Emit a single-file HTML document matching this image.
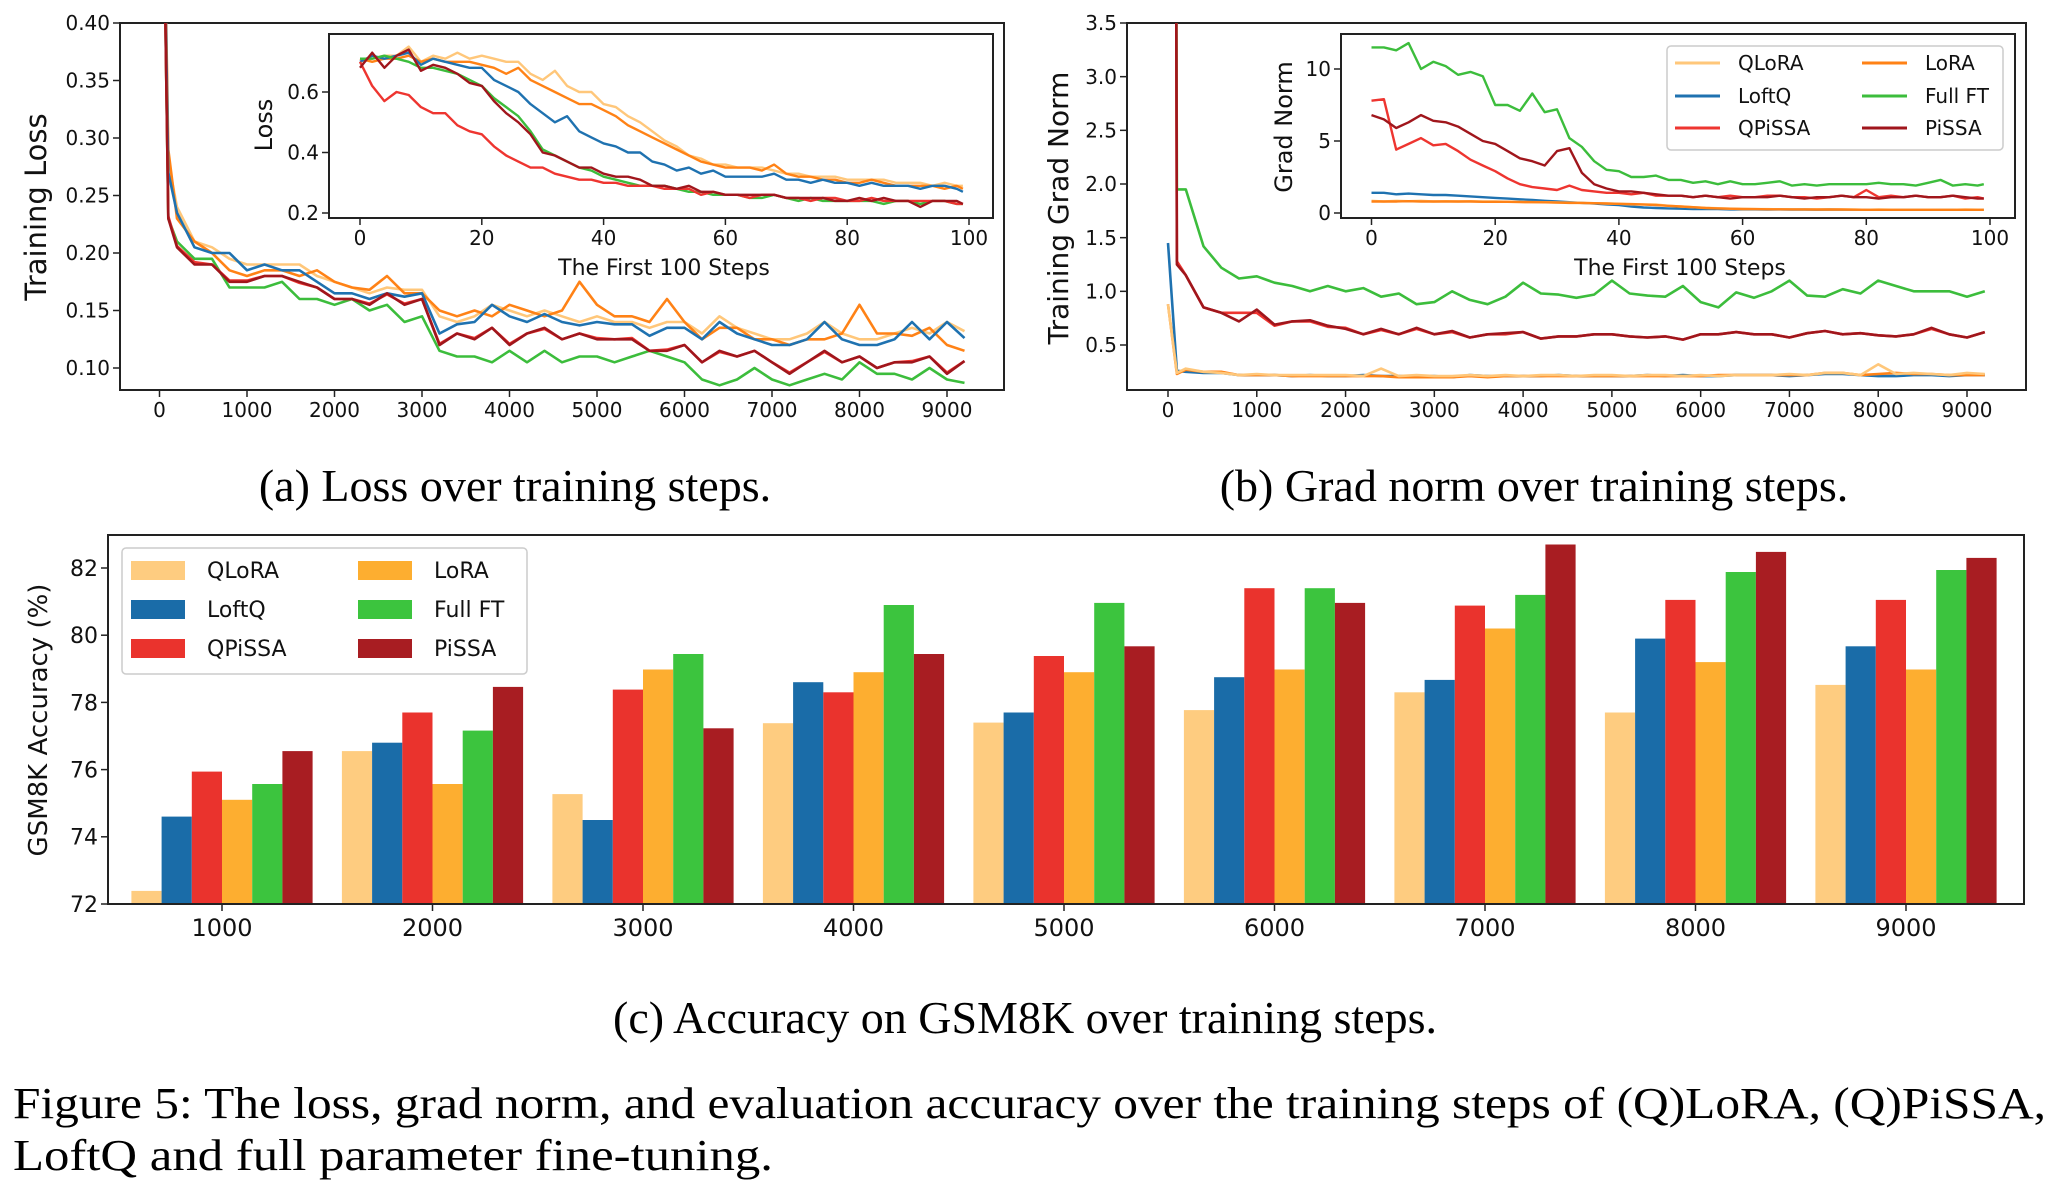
<!DOCTYPE html>
<html><head><meta charset="utf-8">
<style>
html,body{margin:0;padding:0;background:#fff;}
svg{display:block;}
</style></head>
<body>
<svg id="fig" width="2058" height="1186" viewBox="0 0 2058 1186" xmlns="http://www.w3.org/2000/svg" font-family="'DejaVu Sans', sans-serif">
<rect x="0" y="0" width="2058" height="1186" fill="#fff"/>
<g id="layer"></g>
<text x="515" y="501" font-family="'Liberation Serif', serif" font-size="46" text-anchor="middle">(a) Loss over training steps.</text>
<text x="1534" y="501" font-family="'Liberation Serif', serif" font-size="46" text-anchor="middle">(b) Grad norm over training steps.</text>
<text x="1025" y="1033" font-family="'Liberation Serif', serif" font-size="46" text-anchor="middle">(c) Accuracy on GSM8K over training steps.</text>
<text x="13" y="1118" font-family="'Liberation Serif', serif" font-size="44" textLength="2033" lengthAdjust="spacingAndGlyphs">Figure 5: The loss, grad norm, and evaluation accuracy over the training steps of (Q)LoRA, (Q)PiSSA,</text>
<text x="13" y="1170" font-family="'Liberation Serif', serif" font-size="44" textLength="760" lengthAdjust="spacingAndGlyphs">LoftQ and full parameter fine-tuning.</text>
</svg>
<script>
// ---------- DATA ----------
const seriesNames = ["QLoRA","LoftQ","QPiSSA","LoRA","Full FT","PiSSA"];
const lineColors = ["#ffc77a","#1f72b0","#ee3530","#ff8216","#3cbd3c","#a0161c"];
const barColors = ["#fecc80","#1a6ca8","#ea332d","#fdae30","#3cc43e","#a81d22"];

const mainSteps = [0,100,200,400,600,800,1000,1200,1400,1600,1800,2000,2200,2400,2600,2800,3000,3200,3400,3600,3800,4000,4200,4400,4600,4800,5000,5200,5400,5600,5800,6000,6200,6400,6600,6800,7000,7200,7400,7600,7800,8000,8200,8400,8600,8800,9000,9200];

const lossQLoRA = [0.75,0.28,0.24,0.21,0.205,0.195,0.19,0.19,0.19,0.19,0.18,0.175,0.17,0.165,0.17,0.168,0.168,0.145,0.14,0.145,0.155,0.15,0.145,0.15,0.145,0.14,0.145,0.14,0.14,0.135,0.14,0.14,0.13,0.145,0.135,0.13,0.125,0.125,0.13,0.14,0.13,0.125,0.125,0.13,0.135,0.13,0.14,0.132];
const lossLoftQ = [0.75,0.27,0.235,0.205,0.2,0.2,0.185,0.19,0.185,0.185,0.175,0.165,0.165,0.16,0.165,0.162,0.165,0.13,0.138,0.14,0.155,0.145,0.14,0.147,0.14,0.137,0.14,0.138,0.138,0.128,0.135,0.135,0.125,0.14,0.13,0.125,0.12,0.12,0.125,0.14,0.125,0.12,0.12,0.125,0.14,0.125,0.14,0.126];
const lossQPiSSA = [0.75,0.232,0.206,0.192,0.19,0.176,0.176,0.18,0.18,0.174,0.17,0.16,0.16,0.156,0.164,0.156,0.16,0.121,0.13,0.126,0.135,0.121,0.13,0.134,0.125,0.13,0.126,0.125,0.126,0.115,0.116,0.12,0.105,0.114,0.11,0.115,0.105,0.096,0.105,0.114,0.105,0.11,0.1,0.105,0.106,0.11,0.096,0.106];
const lossLoRA = [0.75,0.29,0.23,0.21,0.2,0.185,0.18,0.185,0.185,0.18,0.185,0.175,0.17,0.168,0.18,0.165,0.165,0.15,0.145,0.15,0.145,0.155,0.15,0.145,0.15,0.175,0.155,0.145,0.145,0.14,0.16,0.14,0.125,0.135,0.135,0.125,0.125,0.12,0.125,0.125,0.13,0.155,0.13,0.13,0.128,0.135,0.12,0.115];
const lossFullFT = [0.75,0.23,0.21,0.195,0.195,0.17,0.17,0.17,0.175,0.16,0.16,0.155,0.16,0.15,0.155,0.14,0.145,0.115,0.11,0.11,0.105,0.115,0.105,0.115,0.105,0.11,0.11,0.105,0.11,0.115,0.11,0.105,0.09,0.085,0.09,0.1,0.09,0.085,0.09,0.095,0.09,0.105,0.095,0.095,0.09,0.1,0.09,0.087];
const lossPiSSA = [0.75,0.23,0.205,0.19,0.19,0.175,0.175,0.18,0.18,0.175,0.17,0.16,0.16,0.155,0.165,0.155,0.16,0.12,0.13,0.125,0.135,0.12,0.13,0.135,0.125,0.13,0.125,0.125,0.125,0.115,0.115,0.12,0.105,0.115,0.11,0.115,0.105,0.095,0.105,0.115,0.105,0.11,0.1,0.105,0.105,0.11,0.095,0.106];

const insetSteps = [0,2,4,6,8,10,12,14,16,18,20,22,24,26,28,30,32,34,36,38,40,42,44,46,48,50,52,54,56,58,60,62,64,66,68,70,72,74,76,78,80,82,84,86,88,90,92,94,96,98,99];

const iLossQLoRA = [0.70,0.71,0.72,0.72,0.75,0.70,0.72,0.71,0.73,0.71,0.72,0.71,0.70,0.70,0.66,0.64,0.67,0.62,0.60,0.60,0.56,0.55,0.52,0.50,0.47,0.44,0.42,0.39,0.38,0.36,0.36,0.35,0.35,0.35,0.34,0.33,0.33,0.32,0.32,0.32,0.31,0.31,0.31,0.31,0.30,0.30,0.30,0.29,0.30,0.29,0.29];
const iLossLoftQ = [0.70,0.72,0.71,0.72,0.73,0.69,0.71,0.70,0.69,0.68,0.68,0.64,0.62,0.60,0.56,0.53,0.50,0.52,0.47,0.45,0.43,0.42,0.40,0.40,0.37,0.36,0.34,0.35,0.33,0.34,0.32,0.32,0.32,0.32,0.33,0.31,0.31,0.30,0.31,0.30,0.30,0.29,0.30,0.29,0.29,0.29,0.28,0.29,0.29,0.28,0.27];
const iLossQPiSSA = [0.70,0.62,0.57,0.60,0.59,0.55,0.53,0.53,0.49,0.47,0.46,0.42,0.39,0.37,0.35,0.35,0.33,0.32,0.31,0.31,0.30,0.30,0.29,0.29,0.29,0.28,0.28,0.28,0.26,0.27,0.26,0.26,0.25,0.26,0.26,0.25,0.25,0.24,0.25,0.25,0.24,0.24,0.25,0.24,0.24,0.24,0.24,0.24,0.24,0.23,0.23];
const iLossLoRA = [0.71,0.70,0.71,0.71,0.72,0.70,0.71,0.70,0.70,0.70,0.69,0.68,0.66,0.68,0.64,0.62,0.60,0.58,0.56,0.56,0.54,0.52,0.49,0.47,0.45,0.43,0.41,0.39,0.37,0.36,0.35,0.35,0.35,0.34,0.36,0.33,0.32,0.32,0.31,0.31,0.30,0.30,0.31,0.30,0.29,0.29,0.29,0.29,0.28,0.29,0.28];
const iLossFullFT = [0.71,0.71,0.72,0.71,0.70,0.68,0.68,0.67,0.66,0.64,0.62,0.58,0.55,0.52,0.47,0.41,0.39,0.37,0.35,0.34,0.32,0.31,0.30,0.29,0.29,0.29,0.28,0.27,0.27,0.26,0.26,0.26,0.25,0.25,0.26,0.25,0.24,0.25,0.24,0.24,0.24,0.24,0.24,0.23,0.24,0.24,0.23,0.24,0.24,0.23,0.23];
const iLossPiSSA = [0.68,0.73,0.68,0.72,0.74,0.67,0.69,0.68,0.66,0.63,0.62,0.57,0.53,0.50,0.46,0.40,0.39,0.37,0.35,0.35,0.33,0.32,0.32,0.31,0.29,0.29,0.28,0.29,0.27,0.27,0.26,0.26,0.26,0.26,0.26,0.25,0.25,0.25,0.25,0.24,0.24,0.25,0.24,0.25,0.24,0.24,0.22,0.24,0.24,0.24,0.23];

const gradQLoRA = [0.88,0.24,0.28,0.25,0.24,0.22,0.23,0.22,0.22,0.22,0.22,0.22,0.21,0.28,0.21,0.22,0.21,0.21,0.22,0.21,0.22,0.21,0.22,0.22,0.21,0.22,0.22,0.21,0.22,0.22,0.21,0.22,0.21,0.22,0.22,0.22,0.23,0.22,0.24,0.24,0.22,0.32,0.23,0.24,0.23,0.22,0.24,0.23];
const gradLoftQ = [1.45,0.26,0.25,0.24,0.24,0.22,0.22,0.22,0.21,0.22,0.21,0.21,0.22,0.21,0.21,0.21,0.21,0.2,0.22,0.21,0.21,0.21,0.21,0.22,0.21,0.21,0.21,0.21,0.22,0.21,0.22,0.21,0.21,0.22,0.22,0.22,0.21,0.22,0.23,0.23,0.22,0.21,0.21,0.22,0.22,0.21,0.22,0.22];
const gradQPiSSA = [35,1.28,1.15,0.85,0.8,0.8,0.8,0.68,0.72,0.72,0.67,0.66,0.6,0.64,0.6,0.65,0.6,0.62,0.57,0.6,0.6,0.62,0.56,0.58,0.58,0.6,0.6,0.58,0.57,0.58,0.55,0.6,0.6,0.62,0.6,0.6,0.57,0.61,0.63,0.6,0.61,0.59,0.58,0.6,0.65,0.6,0.57,0.62];
const gradLoRA = [0.88,0.23,0.27,0.25,0.25,0.22,0.22,0.22,0.21,0.21,0.21,0.21,0.21,0.21,0.2,0.2,0.2,0.2,0.21,0.2,0.21,0.21,0.21,0.21,0.21,0.21,0.21,0.21,0.21,0.21,0.21,0.21,0.22,0.22,0.22,0.22,0.22,0.22,0.24,0.24,0.22,0.23,0.24,0.23,0.23,0.22,0.22,0.22];
const gradFullFT = [35,1.95,1.95,1.42,1.22,1.12,1.14,1.08,1.05,1.0,1.05,1.0,1.03,0.95,0.98,0.88,0.9,1.0,0.92,0.88,0.95,1.08,0.98,0.97,0.94,0.97,1.1,0.98,0.96,0.95,1.05,0.9,0.85,0.99,0.94,1.0,1.1,0.96,0.95,1.02,0.98,1.1,1.05,1.0,1.0,1.0,0.95,1.0];
const gradPiSSA = [35,1.25,1.15,0.85,0.8,0.72,0.83,0.69,0.72,0.73,0.68,0.65,0.6,0.65,0.6,0.66,0.6,0.63,0.57,0.6,0.61,0.62,0.56,0.58,0.58,0.6,0.6,0.58,0.57,0.58,0.55,0.6,0.6,0.62,0.6,0.6,0.57,0.61,0.63,0.6,0.61,0.59,0.58,0.6,0.66,0.6,0.57,0.62];

const iGradQLoRA = [0.85,0.8,0.85,0.82,0.85,0.8,0.82,0.8,0.82,0.8,0.8,0.78,0.78,0.76,0.75,0.73,0.72,0.7,0.68,0.66,0.64,0.6,0.58,0.6,0.5,0.45,0.4,0.36,0.33,0.3,0.28,0.27,0.27,0.26,0.26,0.25,0.25,0.24,0.24,0.24,0.22,0.24,0.23,0.22,0.22,0.23,0.22,0.22,0.24,0.23,0.22];
const iGradLoftQ = [1.4,1.4,1.3,1.35,1.3,1.25,1.25,1.2,1.15,1.1,1.05,1.0,0.95,0.9,0.85,0.8,0.75,0.7,0.65,0.6,0.55,0.45,0.38,0.35,0.32,0.3,0.28,0.27,0.27,0.25,0.25,0.25,0.24,0.25,0.24,0.24,0.23,0.24,0.23,0.23,0.22,0.23,0.23,0.22,0.22,0.23,0.22,0.22,0.23,0.22,0.22];
const iGradQPiSSA = [7.8,7.9,4.4,4.8,5.2,4.7,4.8,4.3,3.7,3.3,2.9,2.4,2.0,1.8,1.7,1.6,1.9,1.6,1.5,1.4,1.4,1.3,1.4,1.2,1.2,1.2,1.1,1.2,1.1,1.2,1.1,1.1,1.2,1.2,1.1,1.1,1.0,1.1,1.2,1.1,1.6,1.1,1.2,1.1,1.2,1.1,1.1,1.2,1.0,1.1,1.0];
const iGradLoRA = [0.8,0.8,0.8,0.82,0.8,0.8,0.8,0.8,0.8,0.78,0.78,0.78,0.76,0.75,0.74,0.72,0.7,0.7,0.68,0.66,0.64,0.62,0.6,0.55,0.5,0.45,0.4,0.35,0.32,0.3,0.28,0.27,0.26,0.26,0.25,0.25,0.24,0.24,0.24,0.23,0.22,0.22,0.22,0.22,0.22,0.22,0.22,0.22,0.22,0.22,0.22];
const iGradFullFT = [11.5,11.5,11.3,11.8,10.0,10.5,10.2,9.6,9.8,9.5,7.5,7.5,7.1,8.3,7.0,7.2,5.2,4.6,3.6,3.0,2.9,2.5,2.5,2.6,2.3,2.3,2.1,2.2,2.0,2.2,2.0,2.0,2.1,2.2,1.9,2.0,1.9,2.0,2.0,2.0,2.0,2.1,2.0,2.0,1.9,2.1,2.3,1.9,2.0,1.9,2.0];
const iGradPiSSA = [6.8,6.5,5.9,6.3,6.8,6.4,6.3,6.0,5.5,5.0,4.8,4.3,3.8,3.6,3.3,4.3,4.5,2.8,2.0,1.7,1.5,1.5,1.4,1.3,1.2,1.2,1.1,1.2,1.1,1.0,1.1,1.1,1.1,1.2,1.1,1.0,1.1,1.1,1.2,1.1,1.1,1.0,1.1,1.1,1.2,1.1,1.1,1.2,1.1,1.0,1.0];

const barCategories = ["1000","2000","3000","4000","5000","6000","7000","8000","9000"];
const accQLoRA = [72.39,76.55,75.27,77.38,77.4,77.77,78.3,77.7,78.52];
const accLoftQ = [74.6,76.8,74.5,78.6,77.7,78.75,78.67,79.9,79.67];
const accQPiSSA = [75.94,77.7,78.38,78.3,79.38,81.4,80.88,81.05,81.05];
const accLoRA = [75.1,75.57,78.98,78.9,78.9,78.98,80.2,79.2,78.98];
const accFullFT = [75.57,77.16,79.44,80.9,80.96,81.4,81.2,81.88,81.94];
const accPiSSA = [76.55,78.46,77.23,79.44,79.67,80.96,82.7,82.48,82.3];

const lossYTicks = [0.10,0.15,0.20,0.25,0.30,0.35,0.40];
const stepXTicks = [0,1000,2000,3000,4000,5000,6000,7000,8000,9000];
const insetXTicks = [0,20,40,60,80,100];
const iLossYTicks = [0.2,0.4,0.6];
const gradYTicks = [0.5,1.0,1.5,2.0,2.5,3.0,3.5];
const iGradYTicks = [0,5,10];
const accYTicks = [72,74,76,78,80,82];

// ---------- DRAW ----------
const NS = "http://www.w3.org/2000/svg";
const layer = document.getElementById("layer");
let clipId = 0;
function mk(tag, attrs, parent){
  const e = document.createElementNS(NS, tag);
  for (const k in attrs) e.setAttribute(k, attrs[k]);
  (parent||layer).appendChild(e);
  return e;
}
function lin(d0,d1,r0,r1){ return v => r0 + (v-d0)/(d1-d0)*(r1-r0); }

function axesFrame(name, x0,y0,x1,y1){
  const g = mk("g",{});
  
  
  const r = mk("rect",{x:x0,y:y0,width:x1-x0,height:y1-y0,fill:"none",stroke:"#222","stroke-width":2},g);
  
  
  return g;
}
function yTicks(g, ticks, ys, xAxis, fs, fmt, name){
  ticks.forEach(t=>{
    const y = ys(t);
    mk("line",{x1:xAxis-7,x2:xAxis,y1:y,y2:y,stroke:"#222","stroke-width":1.5},g);
    const tx = mk("text",{x:xAxis-10,y:y+fs*0.36,"font-size":fs,"text-anchor":"end",fill:"#111"},g);
    
    
    tx.textContent = fmt(t);
  });
}
function xTicks(g, ticks, xs, yAxis, fs, fmt, name){
  ticks.forEach(t=>{
    const x = xs(t);
    mk("line",{x1:x,x2:x,y1:yAxis,y2:yAxis+7,stroke:"#222","stroke-width":1.5},g);
    const tx = mk("text",{x:x,y:yAxis+10+fs*0.85,"font-size":fs,"text-anchor":"middle",fill:"#111"},g);
    
    
    tx.textContent = fmt(t);
  });
}
function rotLabel(g, text, x, y, fs, name){
  const t = mk("text",{x:x,y:y,"font-size":fs,"text-anchor":"middle",transform:`rotate(-90 ${x} ${y})`,fill:"#111"},g);
  
  
  t.textContent = text;
}
function lines(g, steps, series, xs, ys, box, lw, order, name){
  clipId++;
  const cp = mk("clipPath",{id:"c"+clipId},g);
  mk("rect",{x:box[0],y:box[1],width:box[2]-box[0],height:box[3]-box[1]},cp);
  const lg = mk("g",{"clip-path":`url(#c${clipId})`},g);
  order.forEach(i=>{
    const d = series[i].map((v,k)=>(k?"L":"M")+xs(steps[k]).toFixed(1)+","+ys(v).toFixed(1)).join("");
    const p = mk("path",{d:d,fill:"none",stroke:lineColors[i],"stroke-width":lw,"stroke-linejoin":"round"},lg);
    
    
  });
}
const order = [0,3,1,4,2,5];

// Panel (a)
{
  const x0=120,y0=23,x1=1004,y1=390;
  const g = axesFrame("loss-chart",x0,y0,x1,y1);
  const xs = lin(0,9000,159.5,947), ys = lin(0.10,0.40,368,23);
  lines(g, mainSteps, [lossQLoRA,lossLoftQ,lossQPiSSA,lossLoRA,lossFullFT,lossPiSSA], xs, ys, [x0,y0,x1,y1], 2.6, order, "loss");
  yTicks(g, lossYTicks, ys, x0, 20, v=>v.toFixed(2), "loss-y");
  xTicks(g, stepXTicks, xs, y1, 20, v=>String(v), "loss-x");
  rotLabel(g, "Training Loss", 46, 207, 29, "loss-y-axis-title");
  const ix0=329,iy0=34,ix1=993,iy1=218;
  const ig = mk("g",{},g);
  
  
  mk("rect",{x:ix0,y:iy0,width:ix1-ix0,height:iy1-iy0,fill:"#fff",stroke:"#222","stroke-width":2},ig);
  const ixs = lin(0,100,360,969), iys = lin(0.2,0.6,213,92);
  lines(ig, insetSteps, [iLossQLoRA,iLossLoftQ,iLossQPiSSA,iLossLoRA,iLossFullFT,iLossPiSSA], ixs, iys, [ix0,iy0,ix1,iy1], 2.4, order, "loss-inset");
  yTicks(ig, iLossYTicks, iys, ix0, 20, v=>v.toFixed(1), "loss-inset-y");
  xTicks(ig, insetXTicks, ixs, iy1, 20, v=>String(v), "loss-inset-x");
  rotLabel(ig, "Loss", 272, 125, 24, "loss-inset-y-axis-title");
  const t = mk("text",{x:664,y:275,"font-size":22,"text-anchor":"middle",fill:"#111"},ig);
  
  
  t.textContent = "The First 100 Steps";
}

// Panel (b)
{
  const x0=1127,y0=23,x1=2026,y1=390;
  const g = axesFrame("grad-norm-chart",x0,y0,x1,y1);
  const xs = lin(0,9000,1168,1967), ys = lin(0.5,3.5,345,23);
  lines(g, mainSteps, [gradQLoRA,gradLoftQ,gradQPiSSA,gradLoRA,gradFullFT,gradPiSSA], xs, ys, [x0,y0,x1,y1], 2.6, [1,3,0,4,2,5], "grad");
  yTicks(g, gradYTicks, ys, x0, 20, v=>v.toFixed(1), "grad-y");
  xTicks(g, stepXTicks, xs, y1, 20, v=>String(v), "grad-x");
  rotLabel(g, "Training Grad Norm", 1068, 208, 28, "grad-y-axis-title");
  const ix0=1341,iy0=34,ix1=2015,iy1=218;
  const ig = mk("g",{},g);
  
  
  mk("rect",{x:ix0,y:iy0,width:ix1-ix0,height:iy1-iy0,fill:"#fff",stroke:"#222","stroke-width":2},ig);
  const ixs = lin(0,100,1371.5,1990), iys = lin(0,10,213,69);
  lines(ig, insetSteps, [iGradQLoRA,iGradLoftQ,iGradQPiSSA,iGradLoRA,iGradFullFT,iGradPiSSA], ixs, iys, [ix0,iy0,ix1,iy1], 2.4, [1,0,3,4,2,5], "grad-inset");
  yTicks(ig, iGradYTicks, iys, ix0, 20, v=>String(v), "grad-inset-y");
  xTicks(ig, insetXTicks, ixs, iy1, 20, v=>String(v), "grad-inset-x");
  rotLabel(ig, "Grad Norm", 1292, 127, 24, "grad-inset-y-axis-title");
  const t = mk("text",{x:1680,y:275,"font-size":22,"text-anchor":"middle",fill:"#111"},ig);
  
  
  t.textContent = "The First 100 Steps";
  const lgd = mk("g",{},ig);
  
  
  mk("rect",{x:1667,y:46,width:336,height:104,rx:4,fill:"#fff",stroke:"#ccc","stroke-width":1.5},lgd);
  const legOrder = [[0,1675,63],[1,1675,96],[2,1675,128],[3,1862,63],[4,1862,96],[5,1862,128]];
  legOrder.forEach(([i,lx,ly])=>{
    const e = mk("g",{},lgd);
    
    
    mk("line",{x1:lx,x2:lx+45,y1:ly,y2:ly,stroke:lineColors[i],"stroke-width":3},e);
    const tt = mk("text",{x:lx+63,y:ly+7,"font-size":20,fill:"#111"},e);
    tt.textContent = seriesNames[i];
  });
}

// Panel (c)
{
  const x0=108,y0=535,x1=2024,y1=904;
  const g = axesFrame("accuracy-bar-chart",x0,y0,x1,y1);
  const ys = lin(72,82,904,568);
  const groupX = i => 222 + i*210.5;
  const bw = 30.2;
  const accs = [accQLoRA,accLoftQ,accQPiSSA,accLoRA,accFullFT,accPiSSA];
  accs.forEach((arr,s)=>{
    arr.forEach((v,i)=>{
      const x = groupX(i) - 3*bw + s*bw;
      const y = ys(v);
      const r = mk("rect",{x:x.toFixed(1),y:y.toFixed(1),width:bw,height:(y1-y).toFixed(1),fill:barColors[s]},g);
      
      
    });
  });
  mk("rect",{x:x0,y:y0,width:x1-x0,height:y1-y0,fill:"none",stroke:"#222","stroke-width":2},g);
  yTicks(g, accYTicks, ys, x0, 22, v=>String(v), "acc-y");
  barCategories.forEach((c,i)=>{
    const x = groupX(i);
    mk("line",{x1:x,x2:x,y1:y1,y2:y1+7,stroke:"#222","stroke-width":1.5},g);
    const tx = mk("text",{x:x,y:936,"font-size":24,"text-anchor":"middle",fill:"#111"},g);
    
    
    tx.textContent = c;
  });
  rotLabel(g, "GSM8K Accuracy (%)", 47, 720, 26, "acc-y-axis-title");
  const lgd = mk("g",{},g);
  
  
  mk("rect",{x:122,y:548,width:405,height:126,rx:4,fill:"#fff",stroke:"#ccc","stroke-width":1.5},lgd);
  const legOrder = [[0,131,570],[1,131,609],[2,131,648],[3,358,570],[4,358,609],[5,358,648]];
  legOrder.forEach(([i,lx,ly])=>{
    const e = mk("g",{},lgd);
    
    
    mk("rect",{x:lx,y:ly-9,width:54,height:19,fill:barColors[i]},e);
    const tt = mk("text",{x:lx+76,y:ly+8,"font-size":22,fill:"#111"},e);
    tt.textContent = seriesNames[i];
  });
}
</script>
</body></html>
